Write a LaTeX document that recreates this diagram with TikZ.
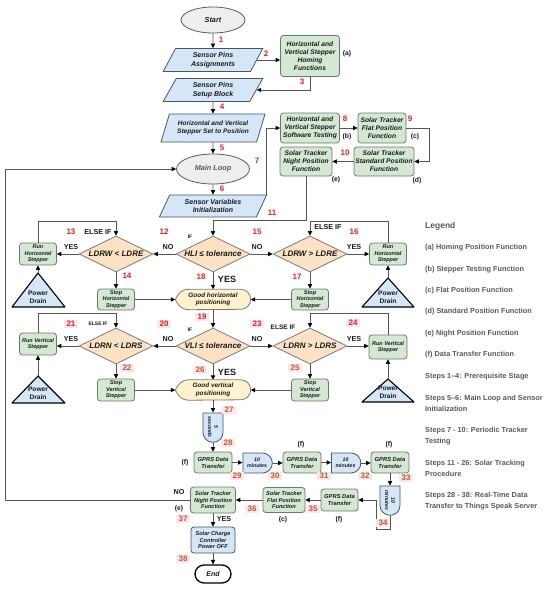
\documentclass[tikz,border=0pt]{standalone}
\usepackage{fontspec}
\setmainfont{Liberation Sans}
\usetikzlibrary{shapes.geometric,shapes.misc,arrows.meta,backgrounds}
\definecolor{pblue}{HTML}{D5E6F7}
\definecolor{pbd}{HTML}{46566A}
\definecolor{gfill}{HTML}{D5E8D4}
\definecolor{gbd}{HTML}{6A7A6A}
\definecolor{dfill}{HTML}{FBE2C5}
\definecolor{dbd}{HTML}{7A7A7A}
\definecolor{efill}{HTML}{EEEEEE}
\definecolor{ebd}{HTML}{5A5A5A}
\definecolor{yfill}{HTML}{FFF2CC}
\definecolor{lc}{HTML}{555555}
\definecolor{txt}{HTML}{1A1A1A}
\definecolor{nred}{HTML}{E3201E}
\definecolor{nbrown}{HTML}{C25A2A}
\definecolor{pinkbg}{HTML}{FCE6EC}
\definecolor{legc}{HTML}{595959}
\newcommand\myfs[2]{\fontsize{#1}{#2}\selectfont\bfseries\itshape}
\newcommand\myup[2]{\fontsize{#1}{#2}\selectfont\bfseries}
\tikzset{
  every node/.style={text=txt, align=center, inner sep=1pt},
  conn/.style={draw=lc, line width=0.9pt, -{Triangle[length=4.5pt,width=4.2pt,color=black]}},
  para/.style={trapezium, trapezium left angle=66, trapezium right angle=114, trapezium stretches=true, draw=pbd, fill=pblue, line width=0.8pt, font=\myfs{7}{8.5}},
  gbox/.style={rectangle, rounded corners=3pt, draw=gbd, fill=gfill, line width=0.8pt, font=\myfs{6.7}{8}},
  sbox/.style={gbox, font=\myfs{5.5}{6.5}, minimum width=37pt, minimum height=22pt},
  tbox/.style={gbox, font=\myfs{5.8}{7}, minimum width=38pt, minimum height=21pt},
  dia/.style={diamond, aspect=2, draw=dbd, fill=dfill, line width=0.8pt, inner sep=0pt, minimum width=74pt, minimum height=36pt, font=\myfs{8}{9}},
  ell/.style={ellipse, draw=ebd, fill=efill, line width=0.8pt, font=\myfs{7.3}{8}},
  disp/.style={rectangle, minimum width=75pt, minimum height=20pt, inner sep=0pt, font=\myfs{6.4}{7.6}},
  delay/.style={rounded rectangle, rounded rectangle left arc=none, draw=pbd, fill=pblue, line width=0.8pt, minimum width=30pt, minimum height=20pt, inner sep=0.3pt, font=\myfs{5.2}{6.2}},
  pd/.style={draw=black, fill=pblue, line width=1.1pt, line join=round},
  pdt/.style={font=\myup{6.6}{7.8}},
  num/.style={font=\myup{8}{8}, text=nred, inner sep=0.5pt},
  nump/.style={num, fill=pinkbg, inner xsep=3pt, inner ysep=1pt},
  numb/.style={nump, text=nbrown},
  lab/.style={font=\myup{7.2}{8}, text=txt, inner sep=0pt},
  slab/.style={font=\myup{5}{6}, text=txt, inner sep=0pt},
  blab/.style={font=\myup{9}{9}, text=txt, inner sep=0pt},
  fl/.style={font=\myup{6.8}{7}, text=txt, inner sep=0pt},
  leg/.style={font=\myup{7.3}{11}, text=legc, align=left, anchor=west, inner sep=0pt},
}
\begin{document}
\begin{tikzpicture}[x=1pt,y=-1pt]
\useasboundingbox (0,0) rectangle (550,589);
\coordinate (y220) at (0,220);
\coordinate (y221) at (0,221);
\coordinate (y313) at (0,313);
\coordinate (lp) at (5,169);
% top part
\node[ell, minimum width=64pt, minimum height=26pt] (start) at (213,20) {Start};
\node[para, minimum width=100pt, minimum height=23pt] (spa) at (213,60) {Sensor Pins\\Assignments};
\node[gbox, minimum width=59pt, minimum height=41pt] (home) at (310,56) {Horizontal and\\Vertical Stepper\\Homing\\Functions};
\node[para, minimum width=100pt, minimum height=23pt] (spsb) at (213,90) {Sensor Pins\\Setup Block};
\node[para, minimum width=105pt, minimum height=28pt, font=\myfs{6.5}{8}] (hvs) at (213,128) {Horizontal and Vertical\\Stepper Set to Position};
\node[ell, minimum width=73pt, minimum height=30pt, text=ebd] (main) at (213,169) {Main Loop};
\node[para, minimum width=108pt, minimum height=22pt] (svi) at (213,206) {Sensor Variables\\Initialization};
\node[gbox, minimum width=59pt, minimum height=30pt] (test) at (310,128) {Horizontal and\\Vertical Stepper\\Software Testing};
\node[gbox, minimum width=48pt, minimum height=30pt] (flat) at (382,128) {Solar Tracker\\Flat Position\\Function};
\node[gbox, minimum width=60pt, minimum height=29pt] (std) at (384,161.5) {Solar Tracker\\Standard Position\\Function};
\node[gbox, minimum width=52pt, minimum height=29pt] (night) at (306,161.5) {Solar Tracker\\Night Position\\Function};
% horizontal tracking
\node[dia] (hli) at (213,254) {HLI ≤ tolerance};
\node[dia] (lw) at (116,254) {LDRW < LDRE};
\node[dia] (le) at (310,254) {LDRW > LDRE};
\node[sbox] (rh1) at (38,254) {Run\\Horizontal\\Stepper};
\node[sbox] (rh2) at (388,254) {Run\\Horizontal\\Stepper};
\node[sbox, minimum height=21pt] (sh1) at (116,299.5) {Stop\\Horizontal\\Stepper};
\node[sbox, minimum height=21pt] (sh2) at (310,299.5) {Stop\\Horizontal\\Stepper};
\node[disp] (gh) at (213,299.5) {Good horizontal\\positioning};
\coordinate (pa1) at (38,273);
\draw[pd] (pa1) -- (65,307) -- (12,307) -- cycle;
\node[pdt] (pd1) at (38,297) {Power\\Drain};
\coordinate (pa2) at (388,278);
\draw[pd] (pa2) -- (414,307) -- (362,307) -- cycle;
\node[pdt] (pd2) at (388,297) {Power\\Drain};
% vertical tracking
\node[dia] (vli) at (213,346) {VLI ≤ tolerance};
\node[dia] (ln) at (116,346) {LDRN < LDRS};
\node[dia] (ls) at (310,346) {LDRN > LDRS};
\node[sbox] (rv1) at (38,344) {Run Vertical\\Stepper};
\node[sbox, minimum width=38pt, minimum height=24pt] (rv2) at (388,347) {Run Vertical\\Stepper};
\node[sbox] (sv1) at (116,390) {Stop\\Vertical\\Stepper};
\node[sbox] (sv2) at (310,390) {Stop\\Vertical\\Stepper};
\node[disp] (gv) at (213,390) {Good vertical\\positioning};
\coordinate (pa3) at (38,376);
\draw[pd] (pa3) -- (65,403) -- (12,403) -- cycle;
\node[pdt] (pd3) at (38,393) {Power\\Drain};
\coordinate (pa4) at (388,379);
\draw[pd] (pa4) -- (414,402) -- (362,402) -- cycle;
\node[pdt] (pd4) at (388,392) {Power\\Drain};
% data transfer
\node[delay, rotate=-90] (d5) at (213,427) {5\\seconds};
\node[tbox] (g1) at (213,462.5) {GPRS Data\\Transfer};
\node[delay] (m1) at (257,463) {10\\minutes};
\node[tbox] (g2) at (302,462.5) {GPRS Data\\Transfer};
\node[delay] (m2) at (345.5,463) {10\\minutes};
\node[tbox] (g3) at (390,462.5) {GPRS Data\\Transfer};
\node[delay, rotate=-90] (m3) at (390,500) {10\\minutes};
\node[tbox, minimum width=37pt, minimum height=22pt] (g4) at (339.5,500) {GPRS Data\\Transfer};
\node[gbox, font=\myfs{5.6}{6.8}, minimum width=42pt, minimum height=25pt] (flat2) at (284,500) {Solar Tracker\\Flat Position\\Function};
\node[gbox, font=\myfs{5.6}{6.8}, minimum width=45pt, minimum height=26pt] (night2) at (213,500) {Solar Tracker\\Night Position\\Function};
\node[rectangle, rounded corners=3pt, draw=pbd, fill=pblue, line width=0.8pt, font=\myfs{5.6}{6.8}, minimum width=44pt, minimum height=26pt] (scc) at (213,540) {Solar Charge\\Controller\\Power OFF};
\node[rounded rectangle, draw=black, fill=white, line width=1.3pt, minimum width=38pt, minimum height=18pt, font=\myfs{7}{8}] (end) at (213,574) {End};
% connectors
\draw[conn] (start.south) -- (spa.north);
\draw[conn] (spa.east) -- (spa.east -| home.west);
\draw[conn] (home.south) |- (spsb.east);
\draw[conn] (spsb.south) -- (hvs.north);
\draw[conn] (hvs.south) -- (main.north);
\draw[conn] (main.south) -- (svi.north);
\draw[conn] ([xshift=-1pt]svi.top right corner) |- (test.west);
\draw[conn] (test.east) -- (flat.west);
\draw[conn] (flat.east) -- ++(23,0) |- (std.east);
\draw[conn] (std.west) -- (night.east);
\draw[conn] (night.south) -- (night.south |- y220) -| (hli.north);
\draw[conn] (hli.west) -- (lw.east);
\draw[conn] (hli.east) -- (le.west);
\draw[conn] (hli.south) -- (gh.north);
\draw[conn] (lw.west) -- (rh1.east);
\draw[conn] (rh1.north) -- (rh1.north |- y221) -| (lw.north);
\draw[conn] (pa1) -- (rh1.south);
\draw[conn] (lw.south) -- (sh1.north);
\draw[conn] (sh1.east) -- (gh.west);
\draw[conn] (le.east) -- (rh2.west);
\draw[conn] (rh2.north) -- (rh2.north |- y221) -| (le.north);
\draw[conn] (pa2) -- (rh2.south);
\draw[conn] (le.south) -- (sh2.north);
\draw[conn] (sh2.west) -- (gh.east);
\draw[conn] (gh.south) -- (vli.north);
\draw[conn] (vli.west) -- (ln.east);
\draw[conn] (vli.east) -- (ls.west);
\draw[conn] (vli.south) -- (gv.north);
\draw[conn] (ln.west) -- (ln.west -| rv1.east);
\draw[conn] (rv1.north) -- (rv1.north |- y313) -| (ln.north);
\draw[conn] (pa3) -- (rv1.south);
\draw[conn] (ln.south) -- (sv1.north);
\draw[conn] (sv1.east) -- (gv.west);
\draw[conn] (ls.east) -- (ls.east -| rv2.west);
\draw[conn] (rv2.north) -- (rv2.north |- y313) -| (ls.north);
\draw[conn] (pa4) -- (rv2.south);
\draw[conn] (ls.south) -- (sv2.north);
\draw[conn] (sv2.west) -- (gv.east);
\draw[conn] (gv.south) -- (d5.west);
\draw[conn] (d5.east) -- (g1.north);
\draw[conn] (g1.east) -- (g1.east -| m1.west);
\draw[conn] (m1.east) -- (m1.east -| g2.west);
\draw[conn] (g2.east) -- (g2.east -| m2.west);
\draw[conn] (m2.east) -- (m2.east -| g3.west);
\draw[conn] (g3.south) -- (m3.west);
\draw[conn] (m3.east) -- ++(0,14) -- ++(-14,0) |- (g4.east);
\draw[conn] (g4.west) -- (g4.west -| flat2.east);
\draw[conn] (flat2.west) -- (flat2.west -| night2.east);
\draw[conn] (night2.south) -- (scc.north);
\draw[conn] (scc.south) -- (end.north);
\draw[conn] (night2.west) -| (lp) -- (main.west);
% step numbers
\node[num] (n1) at (221,40) {1};
\node[num] (n2) at (266,54) {2};
\node[num] (n3) at (302,82) {3};
\node[num] (n4) at (222,107) {4};
\node[num] (n5) at (222,148) {5};
\node[num] (n6) at (222,189) {6};
\node[num] (n7) at (257,161) {7};
\node[num] (n8) at (345,119) {8};
\node[num] (n9) at (410,119) {9};
\node[num] (n10) at (345,153) {10};
\node[num] (n11) at (272,213) {11};
\node[num] (n12) at (164,232) {12};
\node[num] (n13) at (71,232) {13};
\node[num] (n14) at (127,276) {14};
\node[num] (n15) at (257,232) {15};
\node[num] (n16) at (354,232) {16};
\node[num] (n17) at (297,277) {17};
\node[num] (n18) at (201,277) {18};
\node[nump] (n19) at (202,317) {19};
\node[nump] (n20) at (164,324) {20};
\node[nump] (n21) at (71,324) {21};
\node[numb] (n22) at (127,368) {22};
\node[nump] (n23) at (257,324) {23};
\node[nump] (n24) at (353,323) {24};
\node[numb] (n25) at (295,368) {25};
\node[numb] (n26) at (200,370) {26};
\node[numb] (n27) at (229,410) {27};
\node[numb] (n28) at (228,443) {28};
\node[numb] (n29) at (237,476) {29};
\node[numb] (n30) at (275,476) {30};
\node[numb] (n31) at (324,476) {31};
\node[numb] (n32) at (365,476) {32};
\node[numb] (n33) at (406,478) {33};
\node[numb] (n34) at (383,523) {34};
\node[numb] (n35) at (313,509) {35};
\node[numb] (n36) at (252,509) {36};
\node[numb] (n37) at (183,519) {37};
\node[numb] (n38) at (183,559) {38};
% function letters
\node[fl] (fa) at (347,54) {(a)};
\node[fl] (fb) at (347,137) {(b)};
\node[fl] (fc) at (415,137) {(c)};
\node[fl] (fd) at (417,181) {(d)};
\node[fl] (fe) at (336,180) {(e)};
\node[fl] (ff1) at (185,463) {(f)};
\node[fl] (ff2) at (301,445) {(f)};
\node[fl] (ff3) at (389,445) {(f)};
\node[fl] (ff4) at (339,520) {(f)};
\node[fl] (fc2) at (283,520) {(c)};
\node[fl] (fe2) at (179,509) {(e)};
% branch labels
\node[slab] (if1) at (190,237) {IF};
\node[lab] (no1) at (168,247) {NO};
\node[lab] (no2) at (257,247) {NO};
\node[lab] (ei1) at (98,232) {ELSE IF};
\node[lab] (ys1) at (71,247) {YES};
\node[lab] (ei2) at (328,227) {ELSE IF};
\node[lab] (ys2) at (354,247) {YES};
\node[blab] (ys3) at (227,279) {YES};
\node[slab] (ei3) at (98,324) {ELSE IF};
\node[slab] (if2) at (190,330) {IF};
\node[lab] (no3) at (168,339) {NO};
\node[lab] (ys4) at (71,339) {YES};
\node[lab] (no4) at (257,339) {NO};
\node[lab, font=\myup{6.5}{7}] (ei4) at (283,327) {ELSE IF};
\node[lab] (ys5) at (354,339) {YES};
\node[blab] (ys6) at (227,372) {YES};
\node[lab] (no5) at (179,492) {NO};
\node[lab] (ys7) at (224,519) {YES};
% legend
\node[leg, font=\myup{8.5}{10}] (lg0) at (425,226) {Legend};
\node[leg] (lg1) at (425,248) {(a) Homing Position Function};
\node[leg] (lg2) at (425,270) {(b) Stepper Testing Function};
\node[leg] (lg3) at (425,291) {(c) Flat Position Function};
\node[leg] (lg4) at (425,312) {(d) Standard Position Function};
\node[leg] (lg5) at (425,334) {(e) Night Position Function};
\node[leg] (lg6) at (425,355) {(f) Data Transfer Function};
\node[leg] (lg7) at (425,377) {Steps 1–4: Prerequisite Stage};
\node[leg] (lg8) at (425,403.5) {Steps 5–6: Main Loop and Sensor\\Initialization};
\node[leg] (lg9) at (425,436.5) {Steps 7 - 10: Periodic Tracker\\Testing};
\node[leg] (lg10) at (425,468) {Steps 11 - 26: Solar Tracking\\Procedure};
\node[leg] (lg11) at (425,501.5) {Steps 28 - 38: Real-Time Data\\Transfer to Things Speak Server};
% backgrounds
\begin{scope}[on background layer]
\fill[white] (0,0) rectangle (550,589);
\foreach \n in {gh,gv}{
  \filldraw[fill=yfill, draw=dbd, line width=0.8pt]
    (\n.west) .. controls ([xshift=3pt,yshift=6pt]\n.west) and ([xshift=6pt]\n.north west) .. ([xshift=14pt]\n.north west)
    -- ([xshift=-10pt]\n.north east) arc[start angle=90, end angle=-90, x radius=10pt, y radius=10pt]
    -- ([xshift=14pt]\n.south west) .. controls ([xshift=6pt]\n.south west) and ([xshift=3pt,yshift=-6pt]\n.west) .. (\n.west) -- cycle;
}
\end{scope}
\end{tikzpicture}
\end{document}
